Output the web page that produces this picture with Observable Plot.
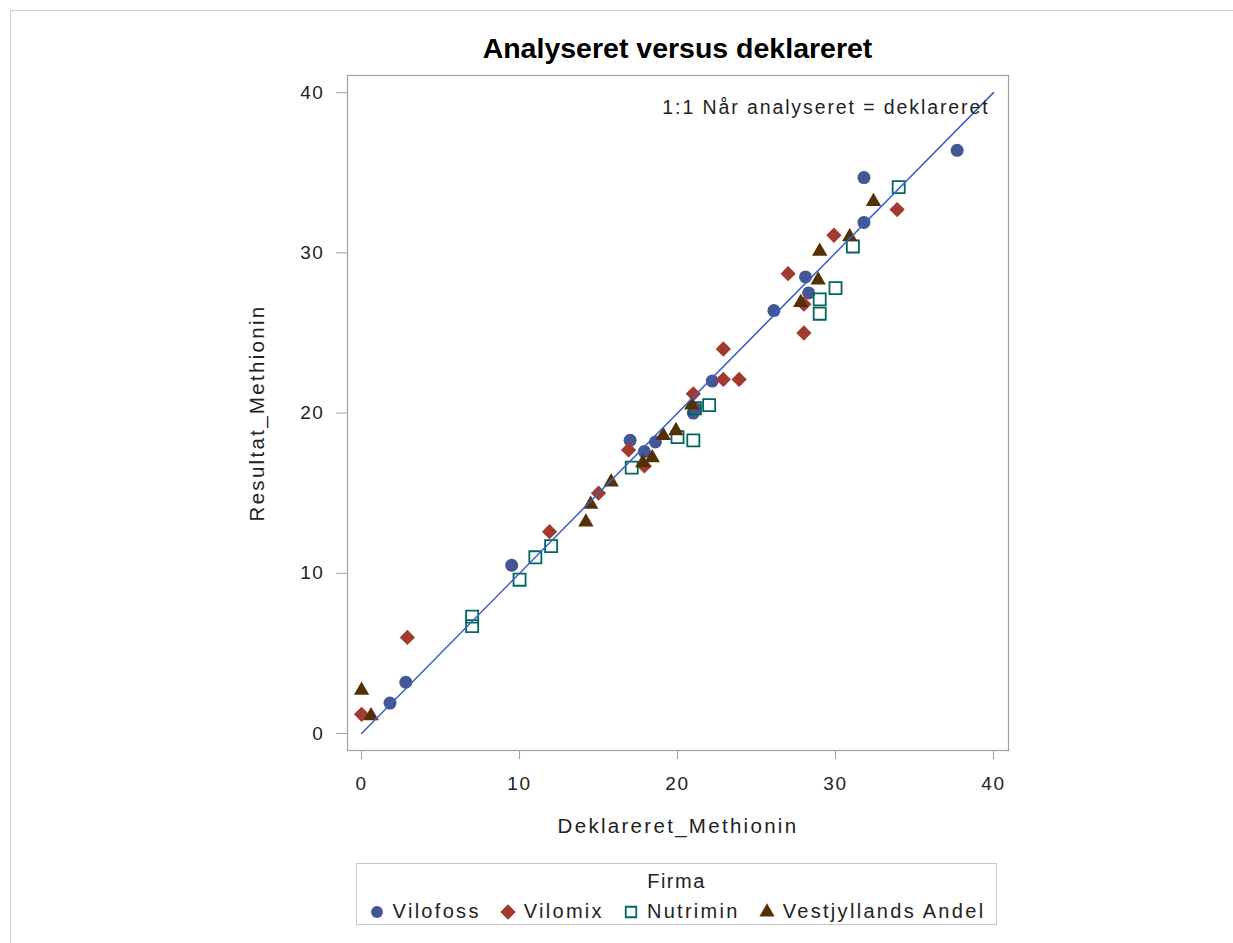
<!DOCTYPE html>
<html>
<head>
<meta charset="utf-8">
<script src="https://cdn.jsdelivr.net/npm/d3@7"></script>
<script src="https://cdn.jsdelivr.net/npm/@observablehq/plot@0.6"></script>
<style>
  html, body { margin: 0; padding: 0; background: #fff; }
  body { font-family: "Liberation Sans", Arial, sans-serif; }
  #page { position: relative; width: 1233px; height: 943px; overflow: hidden; }
  #border { position: absolute; left: 10px; top: 10px; width: 1240px; height: 960px; border: 1px solid #d0d0d0; }
  #title { position: absolute; left: 347px; width: 661px; top: 31px; text-align: center; font-weight: bold; font-size: 28.5px; line-height: 34px; color: #000; }
  #chart { position: absolute; left: 0; top: 0; }
  #chart g[aria-label="y-axis tick label"] text,
  #chart g[aria-label="x-axis tick label"] text { font-size: 19px; letter-spacing: 1.6px; }
  #legend { position: absolute; left: 356px; top: 863px; width: 641px; height: 62px; border: 1px solid #c8c8c8; box-sizing: border-box; }
  #legend .lt { position: absolute; left: 0; width: 100%; top: 6px; text-align: center; font-size: 20px; letter-spacing: 1.5px; color: #222; }
  #legend .items { position: absolute; left: 0; width: 100%; top: 36px; display: flex; justify-content: center; align-items: center; font-size: 20px; letter-spacing: 2.3px; color: #222; white-space: nowrap; }
  #legend .item { display: flex; align-items: center; margin: 0 9px; }
  #legend svg { margin-right: 7px; }
</style>
</head>
<body>
<div id="page">
  <div id="border"></div>
  <div id="chart"></div>
  <div id="title">Analyseret versus deklareret</div>
  <div id="legend"><div class="lt">Firma</div><div class="items" id="items"></div></div>
</div>
<script>
// Data
const firms = ["Vilofoss", "Vilomix", "Nutrimin", "Vestjyllands Andel"];
const colors = ["#445694", "#A23A2E", "#01665E", "#543005"];

const vilofossX = [1.8, 2.8, 9.5, 17.0, 17.9, 18.6, 21.0, 21.1, 22.2, 26.1, 28.1, 28.3, 31.8, 31.8, 37.7];
const vilofossY = [1.9, 3.2, 10.5, 18.3, 17.6, 18.2, 20.0, 20.3, 22.0, 26.4, 28.5, 27.5, 31.9, 34.7, 36.4];

const vilomixX = [0.0, 2.9, 11.9, 15.0, 16.9, 17.9, 21.0, 22.9, 22.9, 23.9, 27.0, 28.0, 28.0, 29.9, 33.9];
const vilomixY = [1.2, 6.0, 12.6, 15.0, 17.7, 16.7, 21.2, 22.1, 24.0, 22.1, 28.7, 26.8, 25.0, 31.1, 32.7];

const nutriminX = [7.0, 7.0, 10.0, 11.0, 12.0, 17.1, 20.0, 21.0, 21.1, 22.0, 29.0, 29.0, 30.0, 31.1, 34.0];
const nutriminY = [7.3, 6.7, 9.6, 11.0, 11.7, 16.6, 18.5, 18.3, 20.3, 20.5, 27.1, 26.2, 27.8, 30.4, 34.1];

const vestX = [0.0, 0.6, 14.2, 14.5, 15.8, 17.8, 18.4, 19.1, 19.9, 20.9, 27.8, 28.9, 29.0, 30.9, 32.4];
const vestY = [2.7, 1.1, 13.2, 14.3, 15.7, 16.9, 17.2, 18.6, 18.9, 20.5, 26.9, 28.3, 30.1, 31.0, 33.2];

const xTicks = [0, 10, 20, 30, 40];
const yTicks = [0, 10, 20, 30, 40];
const refLine = [0, 40];   // 1:1 line endpoints
const xLabel = "Deklareret_Methionin";
const yLabel = "Resultat_Methionin";
const note = "1:1 Når analyseret = deklareret";

const toRows = (xs, ys) => xs.map((x, i) => ({x, y: ys[i]}));
const vilofoss = toRows(vilofossX, vilofossY);
const vilomix = toRows(vilomixX, vilomixY);
const nutrimin = toRows(nutriminX, nutriminY);
const vest = toRows(vestX, vestY);
const lineRows = refLine.map(v => ({x: v, y: v}));

const axisColor = "#a0a0a0";
const chart = Plot.plot({
  width: 1233,
  height: 860,
  marginLeft: 347,
  marginRight: 225,
  marginTop: 75,
  marginBottom: 110,
  style: {fontFamily: "'Liberation Sans', Arial, sans-serif", background: "transparent", color: "#222"},
  x: {domain: [-0.89, 40.95]},
  y: {domain: [-1.06, 41.07]},
  marks: [
    Plot.frame({stroke: axisColor, strokeWidth: 1.2}),
    Plot.axisX({ticks: xTicks, tickSize: 9, tickPadding: 17, fontSize: 19, stroke: axisColor, label: null, tickFormat: d3.format("d")}),
    Plot.axisY({ticks: yTicks, tickSize: 11, tickPadding: 12, fontSize: 19, stroke: axisColor, label: null, tickFormat: d3.format("d")}),
    Plot.text([xLabel], {frameAnchor: "bottom", dy: 76, lineAnchor: "middle", textAnchor: "middle", fontSize: 20.5, fill: "#222"}),
    Plot.text([yLabel], {frameAnchor: "left", dx: -90, rotate: -90, lineAnchor: "middle", textAnchor: "middle", fontSize: 20.5, fill: "#222"}),
    Plot.dot(vilofoss, {x: "x", y: "y", symbol: "circle", r: 6.5, fill: colors[0]}),
    Plot.dot(vilomix, {x: "x", y: "y", symbol: "diamond2", r: 6.9, fill: colors[1]}),
    Plot.dot(nutrimin, {x: "x", y: "y", symbol: "square", r: 6.8, fill: "none", stroke: colors[2], strokeWidth: 1.8}),
    Plot.dot(vest, {x: "x", y: "y", symbol: "triangle", r: 5.7, fill: colors[3]}),
    Plot.line(lineRows, {x: "x", y: "y", stroke: "#3a5fc8", strokeWidth: 1.5}),
    Plot.text([note], {frameAnchor: "top-right", dx: -19, dy: 32, lineAnchor: "middle", textAnchor: "end", fontSize: 19.5, fill: "#222"})
  ]
});
// widen the letter spacing of the label texts to match the reference rendering
d3.select(chart).selectAll("text").each(function() {
  const t = this.textContent;
  if (t === xLabel || t === yLabel) this.style.letterSpacing = "2.3px";
  else if (t === note) this.style.letterSpacing = "1.9px";
});
document.getElementById("chart").appendChild(chart);

// Legend
const symbols = ["circle", "diamond2", "square", "triangle"];
const items = document.getElementById("items");
firms.forEach((f, i) => {
  const d = document.createElement("div");
  d.className = "item";
  const svg = d3.create("svg").attr("width", 18).attr("height", 18);
  const sym = {circle: d3.symbolCircle, diamond2: d3.symbolDiamond2, square: d3.symbolSquare, triangle: d3.symbolTriangle}[symbols[i]];
  const size = {circle: 110, diamond2: 150, square: 110, triangle: 100}[symbols[i]];
  const p = svg.append("path").attr("transform", "translate(9,9)").attr("d", d3.symbol(sym, size)());
  if (symbols[i] === "square") p.attr("fill", "none").attr("stroke", colors[i]).attr("stroke-width", 1.8);
  else p.attr("fill", colors[i]);
  d.appendChild(svg.node());
  const t = document.createElement("span");
  t.textContent = f;
  d.appendChild(t);
  items.appendChild(d);
});
</script>
</body>
</html>
